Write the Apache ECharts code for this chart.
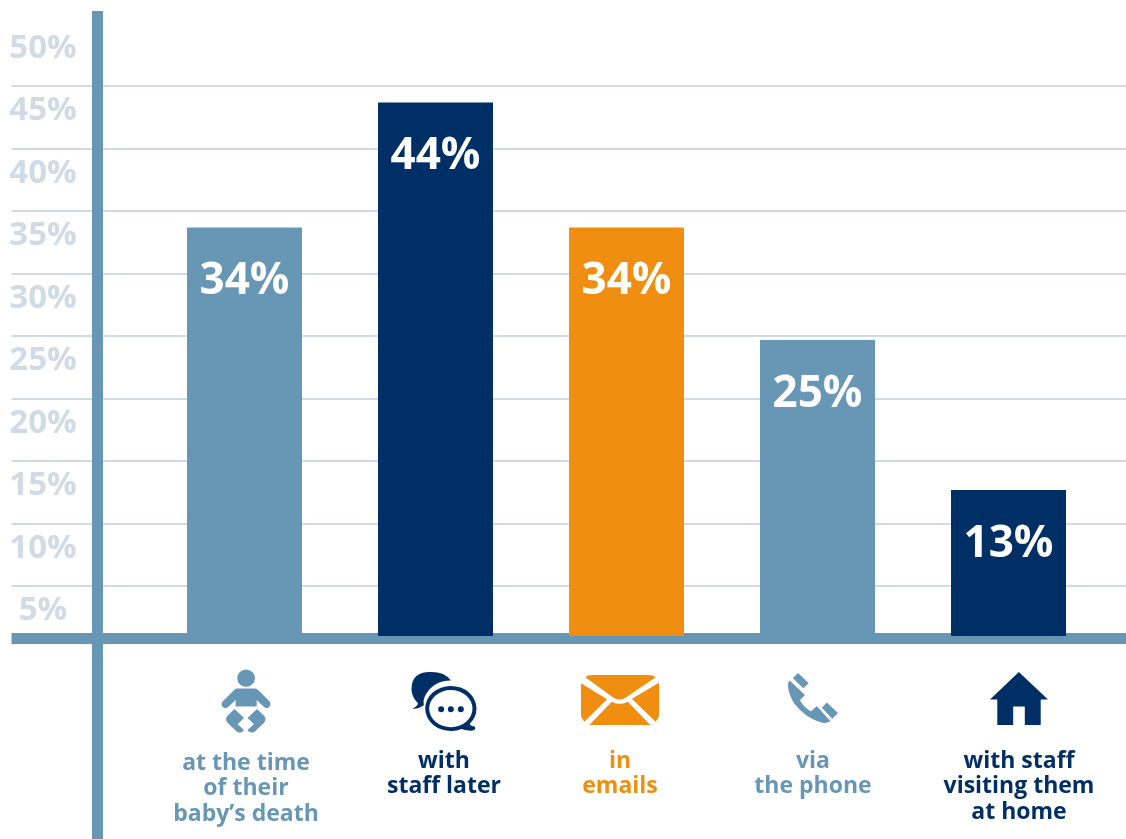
<!DOCTYPE html>
<html>
<head>
<meta charset="utf-8">
<style>html,body{margin:0;padding:0;background:#fff}#chart{width:1126px;height:839px}</style>
<script src="https://cdn.jsdelivr.net/npm/echarts@6/dist/echarts.min.js"></script>
</head>
<body>
<div id="chart"></div>
<script>
// Share of parents by the way they received support
const categories = ["at the time\nof their\nbaby\u2019s death", "with\nstaff later", "in\nemails", "via\nthe phone", "with staff\nvisiting them\nat home"];
const shares = [34, 44, 34, 25, 13];
const scaleTicks = [0, 5, 10, 15, 20, 25, 30, 35, 40, 45, 50];

const BLUE = "#6897b6", NAVY = "#002f66", ORANGE = "#f08e12", PALE = "#d0dbe6";
const FONT = "'Open Sans', sans-serif";
const barColors = [BLUE, NAVY, ORANGE, BLUE, NAVY];
const captionShift = [1.5, 8.5, -6.5, -4.5, 10.5];
const captionDrop = [2, 0, 0, 0, 0];

const icons = [
  { w: 49, h: 63, y: 1, path: "path://M713 353A26 26 0 1 1 765 353A26 26 0 1 1 713 353ZM712 384L765 384Q770 384 775 389L808 423Q814 432 806 440Q798 446 790 438L770 418L770 438L708 438L708 418L688 438Q680 446 671 440Q663 432 670 423L703 389Q707 384 712 384ZM705 445L733 472L714 491L733 508Q725 520 712 513L685 487Q675 476 685 465ZM771 445L743 472L762 491L743 508Q751 520 764 513L791 487Q801 476 791 465Z" },
  { w: 65, h: 59, y: 1.5, path: "path://M98 175Q112 168 115 160Q95 140 95 118Q95 65 155 67Q195 67 213 92Q165 92 140 130Q128 150 132 165Q112 178 98 175ZM136 175A77 67 0 1 1 270 220Q272 228 285 228Q290 240 275 240Q258 240 245 235A77 67 0 0 1 136 175ZM148 175A65 55 0 1 0 278 175A65 55 0 1 0 148 175ZM175 177A9 9 0 1 1 193 177A9 9 0 1 1 175 177ZM204 177A9 9 0 1 1 222 177A9 9 0 1 1 204 177ZM234 177A9 9 0 1 1 252 177A9 9 0 1 1 234 177Z" },
  { w: 78, h: 50, y: 0, path: "path://M618 82Q625 75 640 75L805 75Q820 75 828 82L740 142Q720 155 700 142ZM605 100L683 148L615 215Q605 205 605 195ZM838 98L757 146L828 215Q838 205 838 195ZM630 225L697 155Q720 168 745 155L812 225Z" },
  { w: 50, h: 50, y: -2, path: "path://M177 70L208 100L192 115L161 85ZM262 157L295 188L278 205L247 172ZM152 92L197 135L182 150Q195 172 215 183L232 167L273 212Q262 218 250 217Q200 205 165 160Q145 125 147 103Q147 97 152 92Z" },
  { w: 58, h: 53, y: -1.5, path: "path://M837 65L925 147L903 147L903 223L855 223L855 168L820 168L820 223L772 223L772 147L750 147Z" }
];

const chart = echarts.init(document.getElementById("chart"), null, { renderer: "canvas" });
chart.setOption({
  animation: false,
  backgroundColor: "#ffffff",
  grid: [
    { left: 11.5, right: 0, top: 23.5, height: 625 },    // percentage rules
    { left: 149, width: 955, top: 27.6, height: 608.4 }, // bars
    { left: 97.5, width: 1, top: 11, height: 828 },      // upright axis bar
    { left: 149, width: 955, top: 665, height: 70 },     // icons and captions
    { left: 11.5, width: 1, top: 48.5, height: 625 }     // percentage labels, set below their rules
  ],
  xAxis: [
    {
      gridIndex: 0, type: "value", min: 0, max: 1,
      axisLine: { show: true, onZero: false, lineStyle: { color: BLUE, width: 11, cap: "butt" } },
      offset: -10, axisTick: { show: false }, axisLabel: { show: false }, splitLine: { show: false }
    },
    {
      gridIndex: 1, type: "category", data: categories,
      axisLine: { show: false }, axisTick: { show: false }, axisLabel: { show: false }
    },
    { gridIndex: 2, type: "value", show: false, min: 0, max: 1 },
    { gridIndex: 3, type: "category", data: categories, show: false },
    { gridIndex: 4, type: "value", show: false, min: 0, max: 1 }
  ],
  yAxis: [
    {
      gridIndex: 0, type: "value", min: scaleTicks[0], max: scaleTicks[scaleTicks.length - 1], interval: 5,
      axisLine: { show: false }, axisTick: { show: false }, axisLabel: { show: false },
      splitLine: { show: true, showMinLine: false, showMaxLine: false, lineStyle: { color: PALE, width: 2 } }
    },
    {
      gridIndex: 1, type: "value", min: 1.32, max: 50, show: false, splitLine: { show: false }
    },
    {
      gridIndex: 2, type: "value", min: 0, max: 1, splitLine: { show: false },
      axisLine: { show: true, onZero: false, lineStyle: { color: BLUE, width: 11, cap: "butt" } },
      axisTick: { show: false }, axisLabel: { show: false }
    },
    { gridIndex: 3, type: "value", min: 0, max: 1, show: false },
    {
      gridIndex: 4, type: "value", min: scaleTicks[0], max: scaleTicks[scaleTicks.length - 1], interval: 5,
      axisLine: { show: false }, axisTick: { show: false }, splitLine: { show: false },
      axisLabel: {
        inside: true, margin: 31.5, align: "center", verticalAlign: "middle",
        color: PALE, fontFamily: FONT, fontWeight: 700, fontSize: 33,
        formatter: v => (v === 0 ? "" : v + "%")
      }
    }
  ],
  series: [
    {
      type: "bar", xAxisIndex: 1, yAxisIndex: 1, barWidth: 115, z: 5,
      data: shares.map((v, i) => ({ value: v, itemStyle: { color: barColors[i] } })),
      label: {
        show: true, position: "insideTop", distance: 32, formatter: "{c}%",
        color: "#ffffff", fontFamily: FONT, fontWeight: 700, fontSize: 44
      }
    },
    {
      type: "scatter", xAxisIndex: 3, yAxisIndex: 3, z: 5,
      data: categories.map((c, i) => ({
        value: [c, 0.5],
        symbol: icons[i].path,
        symbolSize: [icons[i].w, icons[i].h],
        symbolOffset: [captionShift[i], icons[i].y],
        itemStyle: { color: barColors[i], opacity: 1 },
        label: {
          show: true, position: "inside", formatter: c, align: "center", verticalAlign: "top",
          offset: [0, 48.5 + captionDrop[i] - icons[i].y],
          color: barColors[i], fontFamily: FONT, fontWeight: 700, fontSize: 23, lineHeight: 25.5
        }
      }))
    }
  ]
});
</script>
</body>
</html>
